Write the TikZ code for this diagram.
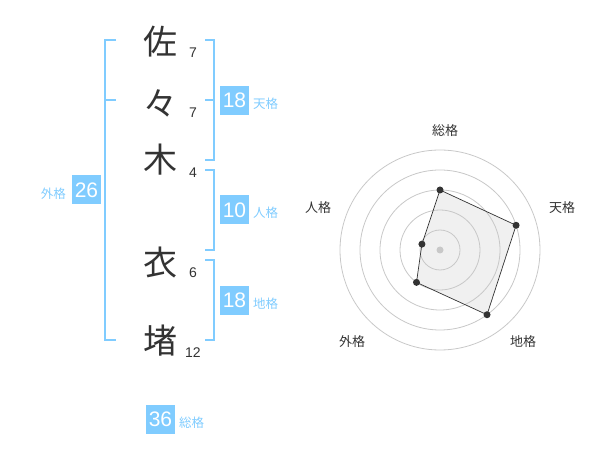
\documentclass[tikz,border=0pt]{standalone}
\usepackage{fontspec}
\setmainfont{Liberation Sans}
\newfontfamily\jp{Noto Sans CJK JP}
\definecolor{sky}{RGB}{128,204,255}
\definecolor{ink}{RGB}{51,51,51}
\definecolor{ring}{RGB}{200,200,200}
\begin{document}
\begin{tikzpicture}[x=1pt,y=-1pt,
  kanji/.style={font=\jp\fontsize{34}{34}\selectfont, text=ink, inner sep=0pt},
  stroke/.style={font=\fontsize{14}{14}\selectfont, text=ink, inner sep=0pt},
  bracket/.style={draw=sky, line width=2pt},
  numbox/.style={fill=sky, text=white, minimum width=29pt, minimum height=29pt, inner sep=0pt, font=\fontsize{21}{21}\selectfont},
  kaku/.style={text=sky, font=\jp\fontsize{12.5}{13}\selectfont, inner sep=0pt},
  rlabel/.style={text=ink, font=\jp\fontsize{13}{13}\selectfont, inner sep=0pt},
  ringline/.style={draw=ring, line width=0.8pt},
  dot/.style={circle, fill=ink, inner sep=0pt, minimum size=7pt}]
\useasboundingbox (0,0) rectangle (600,470);
% characters
\node[kanji] (c1) at (160,42) {佐};
\node[kanji] (c2) at (160,103) {々};
\node[kanji] (c3) at (160,160) {木};
\node[kanji] (c4) at (160,263) {衣};
\node[kanji] (c5) at (160,341) {堵};
\node[stroke] (s1) at (193,53) {7};
\node[stroke] (s2) at (193,113) {7};
\node[stroke] (s3) at (193,173) {4};
\node[stroke] (s4) at (193,273) {6};
\node[stroke] (s5) at (193,353) {12};
% left bracket
\coordinate (la) at (116,40);
\coordinate (lb) at (105,40);
\coordinate (lc) at (105,340);
\coordinate (ld) at (116,340);
\coordinate (lm1) at (105,100);
\coordinate (lm2) at (116,100);
\draw[bracket] (la) -- (lb) -- (lc) -- (ld);
\draw[bracket] (lm1) -- (lm2);
% right brackets
\coordinate (r1a) at (205,40);
\coordinate (r1b) at (214,40);
\coordinate (r1c) at (214,160);
\coordinate (r1d) at (205,160);
\coordinate (r1m) at (205,100);
\coordinate (r1n) at (214,100);
\draw[bracket] (r1a) -- (r1b) -- (r1c) -- (r1d);
\draw[bracket] (r1m) -- (r1n);
\coordinate (r2a) at (205,170);
\coordinate (r2b) at (214,170);
\coordinate (r2c) at (214,250);
\coordinate (r2d) at (205,250);
\draw[bracket] (r2a) -- (r2b) -- (r2c) -- (r2d);
\coordinate (r3a) at (205,260);
\coordinate (r3b) at (214,260);
\coordinate (r3c) at (214,340);
\coordinate (r3d) at (205,340);
\draw[bracket] (r3a) -- (r3b) -- (r3c) -- (r3d);
% boxes
\node[numbox] (ten) at (234.5,100.5) {18};
\node[kaku, anchor=west] (tenl) at (253,104) {天格};
\node[numbox] (jin) at (234.5,210) {10};
\node[kaku, anchor=west] (jinl) at (253,213) {人格};
\node[numbox] (chi) at (234.5,300.5) {18};
\node[kaku, anchor=west] (chil) at (253,304) {地格};
\node[numbox] (gai) at (86.5,190) {26};
\node[kaku, anchor=east] (gail) at (66,194) {外格};
\node[numbox] (sou) at (160.5,419) {36};
\node[kaku, anchor=west] (soul) at (179,423) {総格};
% radar
\coordinate (O) at (440,250);
\path (O) ++(90:-60) coordinate (pS);
\path (O) ++(-18:80) coordinate (pT);
\path (O) ++(54:80) coordinate (pC);
\path (O) ++(126:40) coordinate (pG);
\path (O) ++(198:19) coordinate (pJ);
\fill[black!6] (pS) -- (pT) -- (pC) -- (pG) -- (pJ) -- cycle;
\foreach \r in {20,40,60,80,100} \draw[ringline] (O) circle (\r);
\draw[ink, line width=0.7pt, line join=round] (pS) -- (pT) -- (pC) -- (pG) -- (pJ) -- cycle;
\node[circle, fill=ring, inner sep=0pt, minimum size=7pt] (ctr) at (O) {};
\node[dot] (dS) at (pS) {};
\node[dot] (dT) at (pT) {};
\node[dot] (dC) at (pC) {};
\node[dot] (dG) at (pG) {};
\node[dot] (dJ) at (pJ) {};
\node[rlabel] (lS) at (445,131) {総格};
\node[rlabel] (lT) at (562,208) {天格};
\node[rlabel] (lC) at (523,342) {地格};
\node[rlabel] (lG) at (352,342) {外格};
\node[rlabel] (lJ) at (318,208) {人格};
\end{tikzpicture}
\end{document}
